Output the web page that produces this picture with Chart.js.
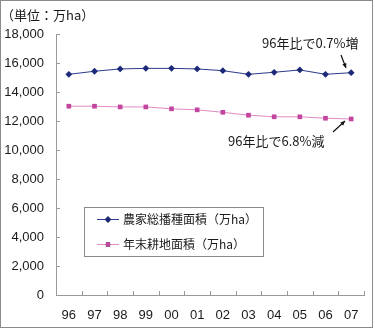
<!DOCTYPE html>
<html>
<head>
<meta charset="utf-8">
<script src="https://cdn.jsdelivr.net/npm/chart.js@4"></script>
<style>
  html, body { margin: 0; padding: 0; background: #fff; }
  #wrap { position: relative; width: 375px; height: 329px; }
</style>
</head>
<body>
<div id="wrap"><canvas id="lineChart1" width="375" height="329"></canvas></div>
<script>
const years = ['96', '97', '98', '99', '00', '01', '02', '03', '04', '05', '06', '07'];
const sownArea = [15220, 15430, 15590, 15630, 15630, 15590, 15470, 15220, 15360, 15520, 15220, 15330];
const arableArea = [13020, 13020, 12970, 12970, 12840, 12770, 12600, 12400, 12290, 12290, 12190, 12140];
const yTicks = [0, 2000, 4000, 6000, 8000, 10000, 12000, 14000, 16000, 18000];
const seriesNames = ['農家総播種面積（万ha）', '年末耕地面積（万ha）'];

const FONT = '"Noto Sans CJK JP", "Noto Sans", sans-serif';
const NUMFONT = '"Liberation Sans", Arial, sans-serif';
const navy = '#1c2878';
const pink = '#c2469e';

// frame, unit label, notes, legend, inward ticks
const extras = {
  id: 'extras',
  beforeDraw(chart) {
    const ctx = chart.ctx;
    ctx.save();
    ctx.fillStyle = '#fff';
    ctx.fillRect(0, 0, chart.width, chart.height);
    ctx.restore();
  },
  afterDraw(chart) {
    const ctx = chart.ctx;
    const y = chart.scales.y;
    const a = chart.chartArea;
    ctx.save();
    ctx.strokeStyle = '#999';
    ctx.lineWidth = 1;
    ctx.beginPath();
    for (let i = 1; i <= years.length; i++) {
      const px = Math.round(a.left + (a.right - a.left) * i / years.length) + 0.5;
      ctx.moveTo(px, a.bottom);
      ctx.lineTo(px, a.bottom - 4);
    }
    yTicks.forEach(v => {
      const py = Math.round(y.getPixelForValue(v)) + 0.5;
      ctx.moveTo(a.left, py);
      ctx.lineTo(a.left + 4, py);
    });
    ctx.stroke();

    // frame
    ctx.strokeStyle = '#8a8a8a';
    ctx.strokeRect(0.5, 0.5, 372, 327);

    ctx.fillStyle = '#1a1a1a';
    ctx.textBaseline = 'middle';
    ctx.font = '13px ' + FONT;
    ctx.fillText('（単位：万ha）', 1, 15);

    ctx.fillText('96年比で0.7%増', 262, 43);
    ctx.fillText('96年比で6.8%減', 228, 141);

    // arrows
    const arrow = (x1, y1, x2, y2) => {
      const ang = Math.atan2(y2 - y1, x2 - x1);
      ctx.strokeStyle = '#111';
      ctx.fillStyle = '#111';
      ctx.lineWidth = 1.2;
      ctx.beginPath();
      ctx.moveTo(x1, y1);
      ctx.lineTo(x2, y2);
      ctx.stroke();
      ctx.beginPath();
      ctx.moveTo(x2, y2);
      ctx.lineTo(x2 - 5 * Math.cos(ang - 0.45), y2 - 5 * Math.sin(ang - 0.45));
      ctx.lineTo(x2 - 5 * Math.cos(ang + 0.45), y2 - 5 * Math.sin(ang + 0.45));
      ctx.closePath();
      ctx.fill();
    };
    arrow(341, 55, 346, 68);
    arrow(333, 132, 345, 121);

    // legend
    ctx.strokeStyle = '#8a8a8a';
    ctx.lineWidth = 1;
    ctx.strokeRect(84.5, 207.5, 179, 49);
    const rows = [
      { c: navy, line: '#2b3a8c', style: 'rectRot', ty: 219 },
      { c: pink, line: '#e08cc4', style: 'rect', ty: 244 }
    ];
    rows.forEach((r, i) => {
      ctx.strokeStyle = r.line;
      ctx.lineWidth = 1;
      ctx.beginPath();
      ctx.moveTo(97, r.ty + 0.5);
      ctx.lineTo(119, r.ty + 0.5);
      ctx.stroke();
      Chart.helpers.drawPoint(ctx, { pointStyle: r.style, radius: r.style === 'rect' ? 3 : 3.2, borderWidth: 0 }, 108, r.ty + 0.5);
      ctx.fillStyle = r.c;
      ctx.fill();
      ctx.fillStyle = '#1a1a1a';
      ctx.font = '12px ' + FONT;
      ctx.fillText(seriesNames[i], 123, r.ty);
    });
    ctx.restore();
  }
};

new Chart(document.getElementById('lineChart1'), {
  type: 'line',
  data: {
    labels: years,
    datasets: [
      {
        label: seriesNames[0],
        data: sownArea,
        borderColor: '#2b3a8c',
        borderWidth: 1,
        backgroundColor: navy,
        pointStyle: 'rectRot',
        pointRadius: 3.4,
        pointBorderWidth: 0,
        pointBackgroundColor: navy,
        tension: 0
      },
      {
        label: seriesNames[1],
        data: arableArea,
        borderColor: '#e08cc4',
        borderWidth: 1,
        backgroundColor: pink,
        pointStyle: 'rect',
        pointRadius: 3.3,
        pointBorderWidth: 0,
        pointBackgroundColor: pink,
        tension: 0
      }
    ]
  },
  options: {
    responsive: false,
    animation: false,
    events: [],
    layout: { padding: { left: 0, top: 34, right: 11, bottom: 0 } },
    plugins: { legend: { display: false }, tooltip: { enabled: false } },
    scales: {
      x: {
        offset: true,
        grid: { display: true, drawOnChartArea: false, drawTicks: false },
        border: { color: '#999' },
        ticks: { color: '#1a1a1a', font: { family: NUMFONT, size: 13 }, padding: 13, maxRotation: 0 },
        afterFit(s) { s.height = 34; }
      },
      y: {
        min: 0,
        max: 18000,
        grid: { display: true, drawOnChartArea: false, drawTicks: false },
        border: { color: '#999' },
        afterBuildTicks(s) { s.ticks = yTicks.map(v => ({ value: v })); },
        ticks: {
          color: '#1a1a1a',
          font: { family: NUMFONT, size: 13 },
          padding: 12,
          callback: v => v.toLocaleString('en-US')
        },
        afterFit(s) { s.width = 56; }
      }
    }
  },
  plugins: [extras]
});
</script>
</body>
</html>
